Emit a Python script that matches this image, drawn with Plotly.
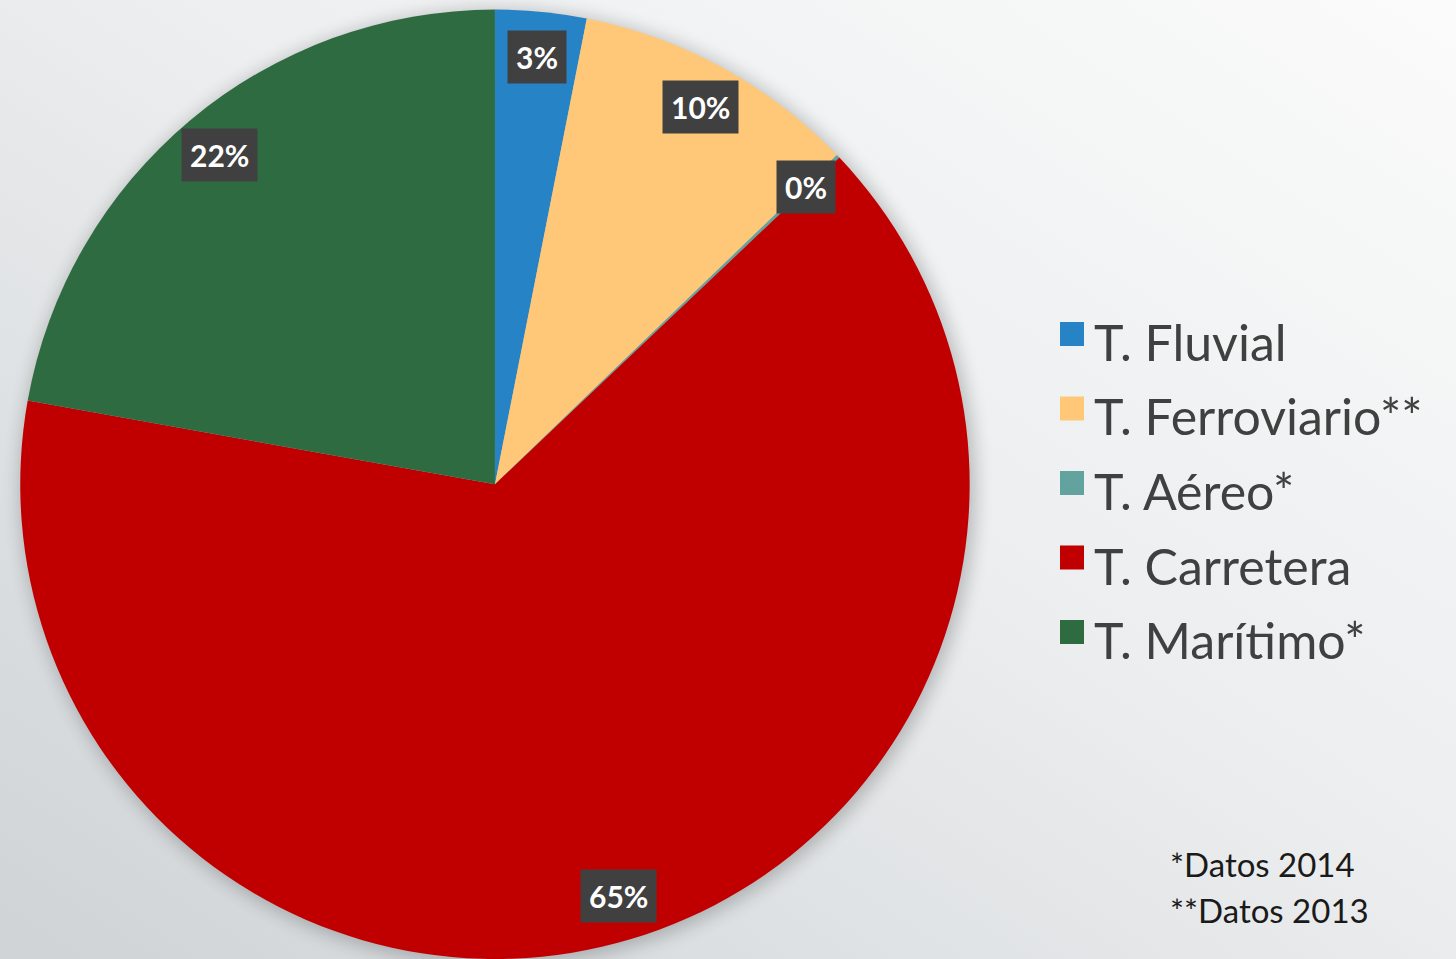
import base64
import math
import plotly.graph_objects as go

# ---- data ----
labels = ["T. Fluvial", "T. Ferroviario**", "T. Aéreo*", "T. Carretera", "T. Marítimo*"]
values = [3.1, 9.7, 0.12, 64.9, 22.18]
pct_text = ["3%", "10%", "0%", "65%", "22%"]
colors = ["#2683C6", "#FEC878", "#62A39F", "#C00000", "#2E6B41"]
notes = ["*Datos 2014", "**Datos 2013"]

W, H = 1456, 959
dom_x = [0.0139, 0.666]
dom_y = [0.0, 0.99]
R = min((dom_x[1] - dom_x[0]) * W, (dom_y[1] - dom_y[0]) * H) / 2
cx = (dom_x[0] + dom_x[1]) / 2 * W
cy = (1 - (dom_y[0] + dom_y[1]) / 2) * H

# background: gradient + soft pie shadow (SVG data URI)
svg = f'''<svg xmlns="http://www.w3.org/2000/svg" width="{W}" height="{H}" viewBox="0 0 {W} {H}">
<defs>
<linearGradient id="g" x1="1" y1="0" x2="0" y2="1">
<stop offset="0" stop-color="#fbfbfb"/>
<stop offset="0.45" stop-color="#eceeef"/>
<stop offset="1" stop-color="#cfd3d6"/>
</linearGradient>
<filter id="b" x="-20%" y="-20%" width="140%" height="140%"><feGaussianBlur stdDeviation="9"/></filter>
</defs>
<rect width="{W}" height="{H}" fill="url(#g)"/>
<circle cx="{cx+3:.1f}" cy="{cy+3:.1f}" r="{R+3:.1f}" fill="#000" opacity="0.22" filter="url(#b)"/>
</svg>'''
bg_uri = "data:image/svg+xml;base64," + base64.b64encode(svg.encode()).decode()

fig = go.Figure()
fig.add_trace(go.Pie(
    labels=labels, values=values, sort=False, direction="clockwise", rotation=0,
    marker=dict(colors=colors, line=dict(width=0)),
    textinfo="none", hoverinfo="label+percent", showlegend=False,
    domain=dict(x=dom_x, y=dom_y),
))

annotations = []
total = sum(values)
cum = 0.0
for v, t in zip(values, pct_text):
    mid = (cum + v / 2) / total * 2 * math.pi
    cum += v
    px = cx + 0.905 * R * math.sin(mid)
    py = cy - 0.905 * R * math.cos(mid)
    annotations.append(dict(
        x=px / W, y=1 - py / H, xref="paper", yref="paper", xanchor="center", yanchor="middle",
        text=f"<b>{t}</b>", showarrow=False, bgcolor="#404040", borderpad=8,
        font=dict(family="Lato", size=30, color="white"),
    ))

# legend (manual, to match the large swatches)
shapes = []
leg_x0 = 1060
leg_y0 = 342
leg_dy = 74.5
sw = 24
for i, (lab, col) in enumerate(zip(labels, colors)):
    yc = leg_y0 + i * leg_dy
    shapes.append(dict(type="rect", xref="paper", yref="paper",
                       x0=leg_x0 / W, x1=(leg_x0 + sw) / W,
                       y0=1 - (yc - 8 + sw / 2) / H, y1=1 - (yc - 8 - sw / 2) / H,
                       fillcolor=col, line=dict(width=0), layer="above"))
    annotations.append(dict(
        x=(leg_x0 + sw + 8) / W, y=1 - yc / H, xref="paper", yref="paper",
        xanchor="left", yanchor="middle", text=lab, showarrow=False,
        font=dict(family="Lato", size=50, color="#404040"),
    ))

for i, n in enumerate(notes):
    annotations.append(dict(
        x=1168 / W, y=1 - (864 + i * 46) / H, xref="paper", yref="paper",
        xanchor="left", yanchor="middle", text=n, showarrow=False,
        font=dict(family="Lato", size=33, color="#1a1a1a"),
    ))

fig.update_layout(
    width=W, height=H, margin=dict(l=0, r=0, t=0, b=0),
    paper_bgcolor="#e6e8ea", plot_bgcolor="rgba(0,0,0,0)",
    images=[dict(source=bg_uri, xref="paper", yref="paper", x=0, y=1, sizex=1, sizey=1,
                 sizing="stretch", xanchor="left", yanchor="top", layer="below")],
    annotations=annotations, shapes=shapes, showlegend=False,
)

fig.write_html("out.html", config={"displayModeBar": False},
               post_script="document.body.style.margin='0';document.body.style.overflow='hidden';")
